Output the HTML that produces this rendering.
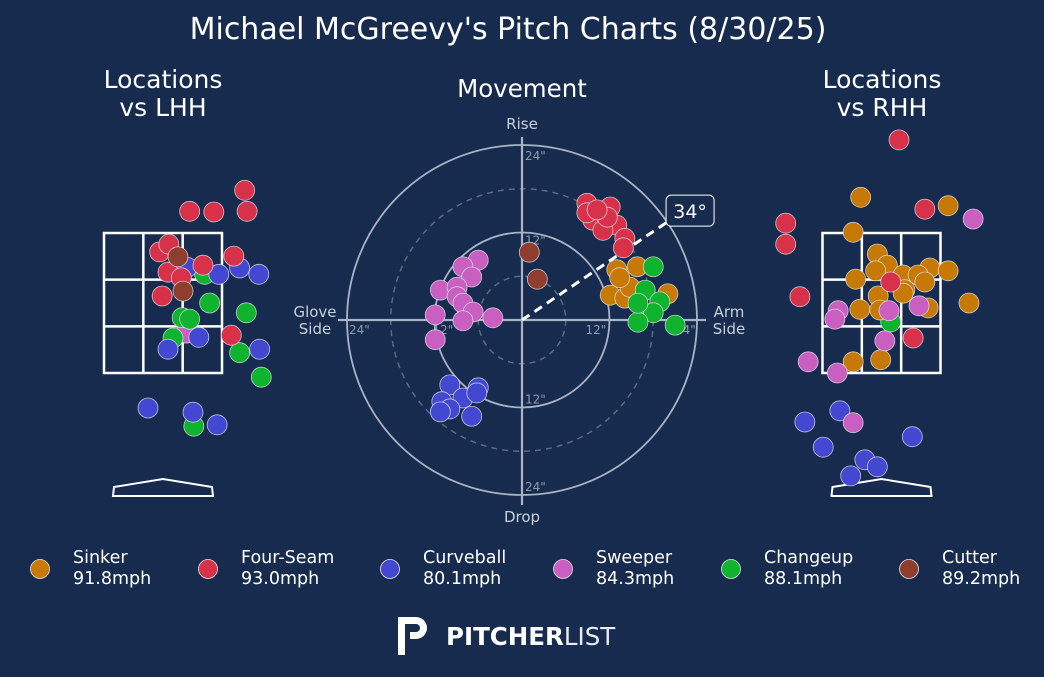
<!DOCTYPE html>
<html><head><meta charset="utf-8"><style>
html,body{margin:0;padding:0;background:#162b4d;}
body{width:1044px;height:673px;overflow:hidden;font-family:"DejaVu Sans","Liberation Sans",sans-serif;}
text{font-family:"DejaVu Sans","Liberation Sans",sans-serif;}
</style></head><body>
<svg id="chart" width="1044" height="673" viewBox="0 0 1044 673" xmlns="http://www.w3.org/2000/svg">
<rect width="1044" height="673" fill="#162b4d"/>
<text x="508" y="39" fill="#fff" font-size="30" text-anchor="middle">Michael McGreevy's Pitch Charts (8/30/25)</text>
<text x="163" y="88" fill="#fff" font-size="25" text-anchor="middle">Locations</text>
<text x="163" y="116" fill="#fff" font-size="25" text-anchor="middle">vs LHH</text>
<text x="882" y="88" fill="#fff" font-size="25" text-anchor="middle">Locations</text>
<text x="882" y="116" fill="#fff" font-size="25" text-anchor="middle">vs RHH</text>
<text x="522" y="97" fill="#fff" font-size="24.5" text-anchor="middle">Movement</text>
<g id="mov"></g>
<g id="lhh"></g>
<g id="rhh"></g>
<g id="legend"></g>
<g>
<path d="M398 617 h18 a11 11 0 0 1 0 22 h-6 v-7 h6 a4 4 0 0 0 0 -8 h-11 v31 h-7 z" fill="#fff"/>
<text x="446" y="645" fill="#fff" font-size="24.5" font-weight="bold">PITCHER<tspan font-weight="normal" fill="#e8ecf3">LIST</tspan></text>
</g>
</svg>
<script>
const NS="http://www.w3.org/2000/svg";
const pitchTypes=["Sinker","Four-Seam","Curveball","Sweeper","Changeup","Cutter"];
const pitchSpeeds=["91.8mph","93.0mph","80.1mph","84.3mph","88.1mph","89.2mph"];
const pitchColors=["#c67a05","#d7324a","#4348d0","#c95fc0","#0fb32e","#8f3d2c"];
// movement (horizontal break in, induced vertical break in)
const movSinkerH=[13.0,15.8,12.1,14.1,20.0,14.8,13.4];
const movSinkerV=[6.9,7.3,3.4,3.0,3.6,4.5,5.8];
const movFourSeamH=[8.9,12.1,9.7,13.0,14.1,13.9,11.1,8.9,11.7,10.3];
const movFourSeamV=[16.0,15.5,13.7,13.0,11.2,9.9,12.3,14.7,14.1,15.1];
const movCurveH=[-9.9,-6.0,-11.0,-8.1,-9.9,-6.9,-11.2,-6.2];
const movCurveV=[-8.9,-9.3,-11.2,-10.7,-12.2,-13.2,-12.6,-10.0];
const movSweeperH=[-6.0,-8.1,-6.9,-11.2,-8.9,-8.9,-8.1,-6.7,-11.9,-8.1,-4.0,-11.9];
const movSweeperV=[8.2,7.3,5.9,4.1,4.5,3.2,2.3,1.1,0.7,-0.1,0.3,-2.7];
const movChangeH=[18.0,16.9,18.9,18.0,15.9,21.0,15.9];
const movChangeV=[7.3,4.1,2.5,1.0,-0.3,-0.7,2.3];
const movCutterH=[1.0,2.1];
const movCutterV=[9.3,5.6];
const armAngle=34;
// LHH locations (plate x ft, plate z ft)
const lhhFourSeamX=[0.98,0.32,0.61,1.01,-0.04,0.07,0.85,0.06,0.48,0.22,-0.01,0.82];
const lhhFourSeamZ=[4.11,3.81,3.80,3.81,3.23,3.34,3.17,2.94,3.04,2.86,2.60,2.04];
const lhhCutterX=[0.18,0.24];
const lhhCutterZ=[3.16,2.67];
const lhhCurveX=[0.29,0.67,0.92,1.15,0.43,0.06,1.16,-0.18,0.36,0.65];
const lhhCurveZ=[3.01,2.91,3.0,2.91,2.01,1.84,1.84,1.0,0.94,0.76];
const lhhChangeX=[0.50,0.56,1.0,0.23,0.32,0.12,0.92,1.18,0.37];
const lhhChangeZ=[2.91,2.5,2.36,2.29,2.27,2.0,1.79,1.44,0.74];
const lhhSweeperX=[0.28];
const lhhSweeperZ=[2.07];
// RHH locations
const rhhFourSeamX=[0.21,0.52,-1.15,-1.15,-0.98,0.11,0.38];
const rhhFourSeamZ=[4.83,3.84,3.64,3.34,2.59,2.80,2.0];
const rhhSinkerX=[-0.25,0.80,-0.34,-0.31,-0.05,0.07,-0.07,0.26,0.58,0.44,0.80,0.52,0.28,-0.04,0.26,-0.26,-0.02,0.56,1.05,-0.34,-0.01];
const rhhSinkerZ=[4.01,3.89,3.51,2.84,3.20,3.04,2.96,2.90,3.0,2.90,2.96,2.80,2.69,2.60,2.64,2.41,2.40,2.43,2.5,1.66,1.69];
const rhhSweeperX=[1.10,-0.52,-0.56,0.09,0.45,0.04,-0.88,-0.53,-0.34];
const rhhSweeperZ=[3.70,2.39,2.27,2.39,2.46,1.96,1.66,1.5,0.79];
const rhhChangeX=[0.11];
const rhhChangeZ=[2.23];
const rhhCurveX=[-0.92,-0.50,-0.70,0.37,-0.20,-0.05,-0.37];
const rhhCurveZ=[0.80,0.96,0.44,0.59,0.26,0.16,0.03];

function mk(tag,attrs,parent){const e=document.createElementNS(NS,tag);for(const k in attrs)e.setAttribute(k,attrs[k]);parent.appendChild(e);return e;}
function dot(g,x,y,c){const e=mk("circle",{cx:x,cy:y,r:10,fill:c,stroke:"#e6e6ee","stroke-width":0.8,"stroke-opacity":0.8},g);

}

// Movement
const mg=document.getElementById("mov");
const CX=522,CY=320,S=175/24;
const mX=h=>CX+h*S, mY=v=>CY-v*S;
const grid="#a9b3c4";
[6,18].forEach(r=>mk("circle",{cx:CX,cy:CY,r:r*S,fill:"none",stroke:"#5c6a84","stroke-width":1.5,"stroke-dasharray":"6,5"},mg));
[12,24].forEach(r=>mk("circle",{cx:CX,cy:CY,r:r*S,fill:"none",stroke:grid,"stroke-width":1.8},mg));
mk("line",{x1:CX,y1:137,x2:CX,y2:505,stroke:grid,"stroke-width":2.2},mg);
mk("line",{x1:338,y1:CY,x2:706,y2:CY,stroke:grid,"stroke-width":2.2},mg);
function t(g,x,y,s,sz,col,anc,name){const e=mk("text",{x:x,y:y,fill:col,"font-size":sz,"text-anchor":anc||"start"},g);e.textContent=s;

return e;}
t(mg,mX(0)+3,mY(24)+15,'24"',12,"#8f9ab0","start","tick-24-top");
t(mg,mX(0)+3,mY(12)+12,'12"',12,"#8f9ab0","start","tick-12-top");
t(mg,mX(0)+3,mY(-12)-4,'12"',12,"#8f9ab0","start","tick-12-bottom");
t(mg,mX(0)+3,mY(-24)-4,'24"',12,"#8f9ab0","start","tick-24-bottom");
t(mg,mX(-24)+2,CY+14,'24"',12,"#8f9ab0","start","tick-24-left");
t(mg,mX(-12)-2,CY+14,'12"',12,"#8f9ab0","start","tick-12-left");
t(mg,mX(12)-24,CY+14,'12"',12,"#8f9ab0","start","tick-12-right");
t(mg,mX(24)-22,CY+14,'24"',12,"#8f9ab0","start","tick-24-right");
t(mg,CX,129,"Rise",15,"#c9d0dc","middle","rise-label");
t(mg,CX,522,"Drop",15,"#c9d0dc","middle","drop-label");
t(mg,315,317,"Glove",15,"#c9d0dc","middle","glove-label");
t(mg,315,334,"Side",15,"#c9d0dc","middle","glove-label-2");
t(mg,729,317,"Arm",15,"#c9d0dc","middle","arm-label");
t(mg,729,334,"Side",15,"#c9d0dc","middle","arm-label-2");
const ar=armAngle*Math.PI/180;
const ax=CX+24*S*Math.cos(ar), ay=CY-24*S*Math.sin(ar);
const al=mk("line",{x1:CX,y1:CY,x2:ax,y2:ay,stroke:"#fff","stroke-width":3,"stroke-dasharray":"9,6"},mg);


const mvSets=[[movSinkerH,movSinkerV,0],[movFourSeamH,movFourSeamV,1],[movCurveH,movCurveV,2],[movSweeperH,movSweeperV,3],[movChangeH,movChangeV,4],[movCutterH,movCutterV,5]];
mvSets.forEach(([hs,vs,ci])=>hs.forEach((h,i)=>dot(mg,mX(h),mY(vs[i]),pitchColors[ci])));
const bx=mk("rect",{x:ax-1,y:ay-27,width:48,height:31,rx:5,fill:"#162b4d",stroke:"#fff","stroke-width":1},mg);


t(mg,ax+23,ay-4,armAngle+"°",19,"#fff","middle","arm-angle-label");

// Location plots
function locPlot(id,cx,sets){
 const g=document.getElementById(id);
 const X=x=>cx+x*83.3, Z=z=>373-(z-1.5)*70;
 const L=X(-17/24),R=X(17/24),T=Z(3.5),B=Z(1.5);
 const zone=mk("rect",{x:L,y:T,width:R-L,height:B-T,fill:"none",stroke:"#fff","stroke-width":2.5},g);
 
 
 for(let i=1;i<3;i++){mk("line",{x1:L+(R-L)*i/3,y1:T,x2:L+(R-L)*i/3,y2:B,stroke:"#fff","stroke-width":2.5},g);
  mk("line",{x1:L,y1:T+(B-T)*i/3,x2:R,y2:T+(B-T)*i/3,stroke:"#fff","stroke-width":2.5},g);}
 const p=mk("path",{d:`M${cx-50} 496 L${cx+50} 496 L${cx+49} 487 L${cx} 479 L${cx-49} 487 Z`,fill:"none",stroke:"#fff","stroke-width":2},g);
 
 
 sets.forEach(([xs,zs,ci])=>xs.forEach((x,i)=>dot(g,X(x),Z(zs[i]),pitchColors[ci])));
}
locPlot("lhh",163,[[lhhSweeperX,lhhSweeperZ,3],[lhhChangeX,lhhChangeZ,4],[lhhCurveX,lhhCurveZ,2],[lhhFourSeamX,lhhFourSeamZ,1],[lhhCutterX,lhhCutterZ,5]]);
locPlot("rhh",881.5,[[rhhCurveX,rhhCurveZ,2],[rhhChangeX,rhhChangeZ,4],[rhhSinkerX,rhhSinkerZ,0],[rhhSweeperX,rhhSweeperZ,3],[rhhFourSeamX,rhhFourSeamZ,1]]);

// Legend
const lg=document.getElementById("legend");
const lgX=[40,208,390,563,731,909];
pitchTypes.forEach((n,i)=>{
 const c=mk("circle",{cx:lgX[i],cy:569,r:9.5,fill:pitchColors[i],stroke:"#e6e6ee","stroke-width":0.8},lg);
 
 
 t(lg,lgX[i]+33,563,n,17.5,"#fff","start","legend-label");
 t(lg,lgX[i]+33,584,pitchSpeeds[i],17.5,"#fff","start","legend-speed");
});
</script>
</body></html>
